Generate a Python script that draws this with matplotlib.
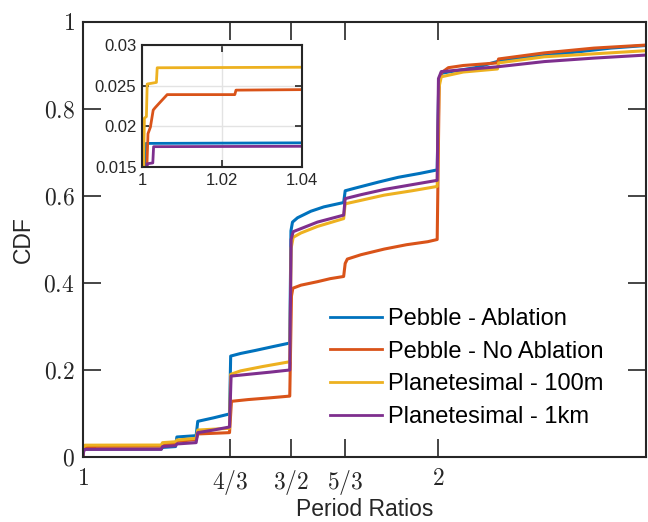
import matplotlib
matplotlib.use('Agg')
import matplotlib.pyplot as plt
from matplotlib.ticker import FixedLocator, FixedFormatter, NullLocator

plt.rcParams['font.family'] = ['Liberation Sans', 'DejaVu Sans']
plt.rcParams['mathtext.fontset'] = 'cm'

# ---- data (period ratio, CDF) ----
ratio_ablation = [1.0, 1.0006, 1.0010, 1.165, 1.168, 1.198, 1.201, 1.247, 1.251, 1.29, 1.331,
                  1.334, 1.36, 1.40, 1.45, 1.497, 1.5005, 1.505, 1.52, 1.56, 1.60, 1.663,
                  1.668, 1.70, 1.78, 1.85, 1.93, 1.996, 2.002, 2.012, 2.05, 2.15, 2.25,
                  2.4, 2.6, 2.8, 3.0]
cdf_ablation = [0.0, 0.012, 0.0179, 0.0182, 0.022, 0.024, 0.046, 0.049, 0.082, 0.090, 0.099,
                0.232, 0.238, 0.245, 0.254, 0.262, 0.52, 0.54, 0.55, 0.565, 0.575, 0.585,
                0.612, 0.618, 0.632, 0.643, 0.652, 0.660, 0.86, 0.882, 0.886, 0.895, 0.910,
                0.920, 0.930, 0.940, 0.946]

ratio_noablation = [1.0, 1.0010, 1.0015, 1.0021, 1.0028, 1.0033, 1.0046, 1.0063, 1.0232,
                    1.0235, 1.165, 1.168, 1.198, 1.201, 1.247, 1.251, 1.331, 1.336, 1.38,
                    1.44, 1.497, 1.502, 1.506, 1.53, 1.58, 1.62, 1.663, 1.668, 1.675, 1.72,
                    1.80, 1.88, 1.96, 1.996, 2.004, 2.012, 2.04, 2.1, 2.245, 2.25, 2.46,
                    2.71, 3.0]
cdf_noablation = [0.0, 0.012, 0.0191, 0.0199, 0.0220, 0.0223, 0.0230, 0.0239, 0.0239,
                  0.02445, 0.025, 0.029, 0.031, 0.036, 0.040, 0.053, 0.056, 0.128, 0.132,
                  0.136, 0.140, 0.37, 0.388, 0.395, 0.403, 0.410, 0.415, 0.445, 0.455, 0.465,
                  0.478, 0.488, 0.495, 0.500, 0.86, 0.883, 0.895, 0.900, 0.906, 0.915, 0.929,
                  0.940, 0.947]

ratio_100m = [1.0, 1.0003, 1.0006, 1.0011, 1.0013, 1.0036, 1.0038, 1.165, 1.168, 1.198,
              1.201, 1.247, 1.251, 1.331, 1.334, 1.36, 1.42, 1.497, 1.501, 1.507, 1.53,
              1.58, 1.663, 1.668, 1.72, 1.80, 1.90, 1.996, 2.003, 2.012, 2.1, 2.245, 2.25,
              2.46, 3.0]
cdf_100m = [0.0, 0.012, 0.0210, 0.0212, 0.0252, 0.0254, 0.0272, 0.0275, 0.033, 0.035,
            0.039, 0.043, 0.062, 0.066, 0.190, 0.198, 0.208, 0.219, 0.48, 0.505, 0.515,
            0.530, 0.548, 0.582, 0.590, 0.602, 0.612, 0.622, 0.85, 0.874, 0.885, 0.892,
            0.906, 0.920, 0.934]

ratio_1km = [1.0, 1.0012, 1.0013, 1.0027, 1.0029, 1.165, 1.168, 1.198, 1.201, 1.247, 1.251,
             1.29, 1.331, 1.335, 1.38, 1.44, 1.497, 1.501, 1.507, 1.53, 1.58, 1.663, 1.668,
             1.72, 1.80, 1.90, 1.996, 2.001, 2.012, 2.245, 2.46, 2.71, 3.0]
cdf_1km = [0.0, 0.012, 0.0154, 0.0155, 0.0175, 0.0177, 0.024, 0.026, 0.030, 0.033, 0.056,
           0.062, 0.069, 0.186, 0.190, 0.195, 0.200, 0.50, 0.518, 0.525, 0.540, 0.556, 0.594,
           0.603, 0.615, 0.626, 0.636, 0.87, 0.886, 0.897, 0.909, 0.917, 0.924]

labels = ['Pebble - Ablation', 'Pebble - No Ablation',
          'Planetesimal - 100m', 'Planetesimal - 1km']
colors = ['#0072BD', '#D95319', '#EDB120', '#7E2F8E']

xticks = [1, 4/3, 3/2, 5/3, 2]
xtick_labels = ['$1$', '$4/3$', '$3/2$', '$5/3$', '$2$']
yticks = [0, 0.2, 0.4, 0.6, 0.8, 1]
ytick_labels = ['$0$', '$0.2$', '$0.4$', '$0.6$', '$0.8$', '$1$']

series = [(ratio_ablation, cdf_ablation), (ratio_noablation, cdf_noablation),
          (ratio_100m, cdf_100m), (ratio_1km, cdf_1km)]

spine_col = '#262626'

fig = plt.figure(figsize=(6.48, 5.22), dpi=100)
ax = fig.add_axes([83/648, 65/522, 563/648, 435/522])

for (x, y), c, lab in zip(series, colors, labels):
    ax.plot(x, y, color=c, lw=2.2, label=lab)

ax.set_xscale('log')
ax.set_xlim(1, 3)
ax.set_ylim(0, 1)
ax.xaxis.set_major_locator(FixedLocator(xticks))
ax.xaxis.set_major_formatter(FixedFormatter(xtick_labels))
ax.xaxis.set_minor_locator(NullLocator())
ax.yaxis.set_major_locator(FixedLocator(yticks))
ax.yaxis.set_major_formatter(FixedFormatter(ytick_labels))
ax.tick_params(direction='in', length=13, width=1.2, top=True, right=True,
               labelsize=17, colors=spine_col, labelcolor='#262626')
ax.tick_params(axis='x', pad=8)
ax.tick_params(axis='y', pad=6)
for s in ax.spines.values():
    s.set_color(spine_col)
    s.set_linewidth(1.5)

ax.set_xlabel('Period Ratios', fontsize=16.5, color='#262626', labelpad=1)
ax.set_ylabel('CDF', fontsize=16.5, color='#262626', labelpad=6)

# legend placed in figure pixels (no frame)
leg = ax.legend(loc='upper left', bbox_to_anchor=(330/648, 1 - 308/522),
                bbox_transform=fig.transFigure, frameon=False, fontsize=17,
                handlelength=2.2, handletextpad=0.25, labelspacing=0.45, borderpad=0,
                borderaxespad=0)
for h in leg.get_lines():
    h.set_linewidth(2.0)

# ---- inset zoom near ratio 1 ----
axin = fig.add_axes([142/648, 355/522, 160/648, 122/522])
for (x, y), c in zip(series, colors):
    axin.plot(x, y, color=c, lw=2.0)
axin.set_xlim(1, 1.04)
axin.set_ylim(0.015, 0.03)
axin.set_xticks([1, 1.02, 1.04])
axin.set_xticklabels(['1', '1.02', '1.04'])
axin.set_yticks([0.015, 0.02, 0.025, 0.03])
axin.set_yticklabels(['0.015', '0.02', '0.025', '0.03'])
axin.grid(True, color='#e3e3e3', lw=1.0)
axin.set_axisbelow(True)
axin.tick_params(direction='in', length=5, width=1.2, top=True, right=True,
                 labelsize=12, colors=spine_col, labelcolor='#262626', pad=4)
for s in axin.spines.values():
    s.set_color(spine_col)
    s.set_linewidth(1.5)

fig.savefig('out.png', dpi=100)
